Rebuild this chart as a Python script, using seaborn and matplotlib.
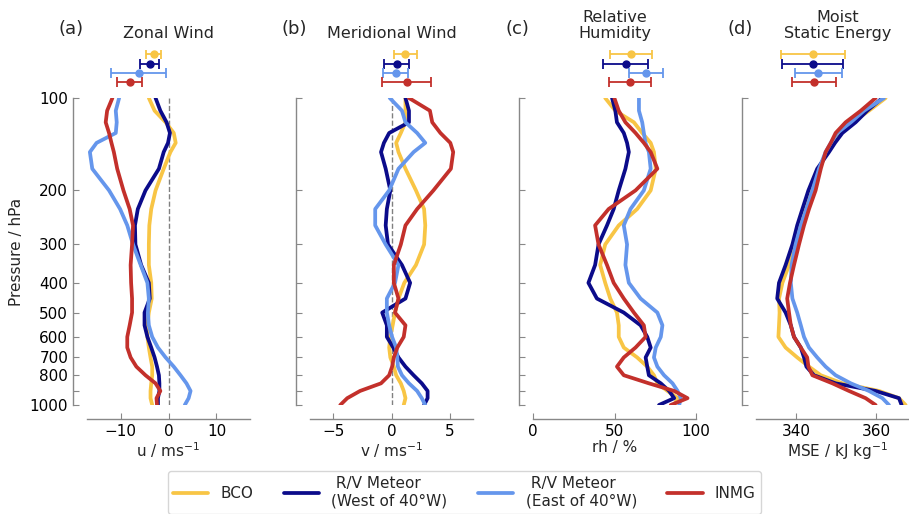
import numpy as np
import pandas as pd
import seaborn as sns
import matplotlib.pyplot as plt
from matplotlib.ticker import NullLocator

sns.set_style('ticks')
plt.rcParams['font.family'] = ['DejaVu Sans']
plt.rcParams['font.size'] = 11

pressure = [100, 110, 120, 130, 140, 150, 170, 200, 230, 260, 300, 350, 400,
            450, 500, 550, 600, 650, 700, 750, 800, 850, 900, 950, 1000]

sources = ['BCO', ' R/V Meteor\n(West of 40°W)', ' R/V Meteor\n(East of 40°W)', 'INMG']
colors = ['#F8C545', '#0B0B8A', '#6596EC', '#C3302B']

# zonal wind (m/s)
u_bco = [-4.1, -2.9, -0.6, 1.1, 1.5, 0.4, -1.0, -2.7, -3.6, -4.0, -4.1, -4.1, -3.6,
         -3.5, -4.1, -4.4, -4.4, -4.1, -3.75, -3.4, -3.4, -3.6, -3.75, -3.75, -3.4]
u_west = [-2.7, -1.7, -0.4, 0.3, -0.1, -1.0, -2.0, -4.8, -6.4, -7.0, -6.9, -5.7, -4.1,
          -3.9, -5.0, -5.0, -4.4, -3.6, -2.9, -2.4, -2.0, -1.9, -1.9, -2.2, -2.2]
u_east = [-10.3, -11.0, -10.8, -11.0, -15.0, -16.4, -15.9, -12.4, -10.1, -8.6, -7.4, -5.8, -4.4,
          -4.1, -4.3, -4.1, -3.4, -2.2, -0.6, 1.1, 2.5, 3.75, 4.6, 4.2, 3.4]
u_inmg = [-11.7, -12.8, -13.1, -12.4, -11.9, -11.4, -10.7, -9.4, -8.1, -7.4, -7.6, -7.9, -7.8,
          -7.6, -7.6, -8.1, -8.6, -8.6, -7.9, -6.7, -4.8, -2.7, -1.7, -2.5, -2.4]

# meridional wind (m/s)
v_bco = [1.2, 1.2, 1.2, 0.8, 0.4, 0.6, 1.2, 2.1, 2.8, 2.9, 2.8, 2.1, 1.1,
         0.6, 0.3, 0.1, -0.1, -0.2, -0.1, 0.2, 0.4, 0.8, 1.05, 1.2, 1.05]
v_west = [1.2, 1.5, 1.5, -0.2, -0.65, -0.9, -0.5, -0.1, -0.4, -0.5, -0.3, 0.9, 1.6,
          1.2, -0.8, -0.4, -0.4, 0.15, 0.6, 1.2, 1.9, 2.6, 3.1, 3.1, 2.8]
v_east = [-0.15, 0.9, 1.2, 2.2, 2.9, 1.9, 0.6, -0.2, -1.4, -1.4, -0.5, 0.6, 0.3,
          -0.4, -0.4, -0.2, 0.05, 0.4, 0.5, 0.55, 0.9, 1.5, 2.2, 2.6, 2.9]
v_inmg = [1.5, 3.3, 3.5, 4.2, 5.05, 5.3, 5.1, 3.6, 2.2, 1.2, 0.8, 0.2, 0.2,
          0.6, 0.3, 1.2, 1.05, 0.5, 0.2, 0.05, -0.2, -0.9, -2.7, -3.8, -4.4]

# relative humidity (%)
rh_bco = [44.3, 50.5, 61.9, 67, 72.2, 74.2, 75.3, 72.2, 63.9, 52.6, 44.3, 41.2, 44.3,
          47.4, 51.5, 52.6, 52.6, 55.7, 63.9, 70.1, 74.2, 76.3, 82.5, 88.7, 86.6]
rh_west = [48.5, 50.5, 51.5, 55.7, 57.7, 58.8, 56.7, 52.6, 49.5, 45.4, 40.2, 38.1, 34,
           39.2, 55.7, 66, 70.1, 72.2, 69.1, 70.1, 71.1, 78.4, 83.5, 86.6, 77.3]
rh_east = [65, 65, 67, 68, 69, 71.1, 72.2, 68, 59.8, 55.7, 57.7, 56.7, 58.8,
           66, 76.3, 79.4, 78.4, 75.3, 74.2, 76.3, 80.4, 85.6, 88.7, 90.7, 89.7]
rh_inmg = [49.9, 52.6, 56.7, 62.9, 68, 72.2, 76.3, 62.9, 46.4, 38.1, 40.2, 45.4, 49.5,
           55.7, 61.9, 68, 69.1, 62.9, 55.7, 51.5, 55.7, 71.1, 86.6, 94.8, 84.5]

# moist static energy (kJ/kg)
mse_bco = [362.4, 358.25, 354.1, 351.2, 349.5, 347.8, 345.75, 343.7, 342, 340.75, 339.9, 338.25, 336.6,
           335.75, 335.9, 335.75, 335.6, 337.4, 340.3, 343.25, 346.2, 351.6, 360.75, 365.75, 367.4]
mse_west = [361.6, 357.8, 354.9, 351.6, 349.75, 348.25, 345.3, 343.1, 341.6, 340.3, 339.1, 337.4, 335.75,
            335.3, 337.4, 338.7, 339.5, 341.2, 342, 342.6, 344.5, 349.9, 359.9, 365.75, 366.4]
mse_east = [362, 357, 353.7, 350.3, 348.7, 347.4, 345.75, 344.1, 342.6, 341.2, 339.9, 338.9, 338.7,
            339.1, 340.3, 341.2, 342, 343.25, 345.3, 347.4, 349.9, 353.7, 358.25, 361.6, 363.25]
mse_inmg = [359.9, 356.2, 352.4, 349.9, 348.7, 347.4, 346.2, 344.9, 343.25, 342, 340.75, 339.5, 338.5,
            337.8, 338.25, 338.7, 339.5, 341.2, 342.8, 343.1, 344.1, 349.1, 353.25, 357.4, 359.9]

# column means and spread (top error bars)
u_mean, u_std = [-3.1, -3.9, -6.2, -8.1], [1.5, 2.0, 5.7, 2.6]
v_mean, v_std = [1.2, 0.43, 0.35, 1.3], [1.0, 1.1, 1.1, 2.1]
rh_mean, rh_std = [60.3, 56.8, 69.5, 59.5], [12.9, 13.7, 10.3, 13.0]
mse_mean, mse_std = [344.2, 344.2, 345.6, 344.5], [8.0, 7.6, 5.8, 5.5]

panels = [
    ('(a)', 'Zonal Wind', 'u / ms$^{-1}$', [u_bco, u_west, u_east, u_inmg], u_mean, u_std,
     (-17, 17), [-10, 0, 10]),
    ('(b)', 'Meridional Wind', 'v / ms$^{-1}$', [v_bco, v_west, v_east, v_inmg], v_mean, v_std,
     (-7, 7), [-5, 0, 5]),
    ('(c)', 'Relative\nHumidity', 'rh / %', [rh_bco, rh_west, rh_east, rh_inmg], rh_mean, rh_std,
     (0, 100), [0, 50, 100]),
    ('(d)', 'Moist\nStatic Energy', 'MSE / kJ kg$^{-1}$', [mse_bco, mse_west, mse_east, mse_inmg],
     mse_mean, mse_std, (330, 370.75), [340, 360]),
]

W, H = 909, 514
fig = plt.figure(figsize=(W / 100, H / 100), dpi=100)
lefts = [87, 310, 533, 756]
grey = '#888888'
yticks = [100, 200, 300, 400, 500, 600, 700, 800, 900, 1000]

for i, (letter, title, xlabel, series, means, stds, xlim, xticks) in enumerate(panels):
    ax = fig.add_axes([lefts[i] / W, (H - 405) / H, 163 / W, 307 / H])
    for j, vals in enumerate(series):
        df = pd.DataFrame({'x': vals, 'p': pressure})
        sns.lineplot(data=df, x='x', y='p', ax=ax, color=colors[j], lw=2.7,
                     sort=False, estimator=None, orient='y', label=sources[j])
    if i < 2:
        ax.axvline(0, color='grey', ls='--', lw=1, zorder=0)
    ax.set_yscale('log')
    ax.set_ylim(1000, 100)
    ax.yaxis.set_minor_locator(NullLocator())
    ax.set_yticks(yticks)
    if i == 0:
        ax.set_yticklabels([str(t) if t != 900 else '' for t in yticks])
        ax.set_ylabel('Pressure / hPa')
    else:
        ax.set_yticklabels([])
        ax.set_ylabel('')
    ax.set_xlim(*xlim)
    ax.set_xticks(xticks)
    ax.set_xlabel(xlabel, labelpad=1)
    ax.tick_params(direction='in', colors=grey, labelcolor='black', labelsize=11, length=4)
    ax.get_legend().remove()
    sns.despine(ax=ax, offset=10)
    for s in ['left', 'bottom']:
        ax.spines[s].set_color(grey)
        ax.spines[s].set_linewidth(1)

    ax.text(0.5, 1.186, title, transform=ax.transAxes, ha='center', va='bottom',
            fontsize=11.5, linespacing=1.1)
    ax.text(-0.097, 1.225, letter, transform=ax.transAxes, ha='center', va='center',
            fontsize=13)

    eax = ax.inset_axes([0, 1.037, 1, 0.12])
    for j in range(4):
        eax.errorbar(means[j], 3 - j, xerr=stds[j], fmt='o', color=colors[j], ms=5,
                     elinewidth=1.3, capsize=3.5, capthick=1.3)
    eax.set_xlim(*xlim)
    eax.set_ylim(-0.5, 3.5)
    eax.axis('off')

    if i == 0:
        handles, labels = ax.get_lines()[:4], sources

fig.legend(handles, labels, loc='upper center', bbox_to_anchor=(0.511, 1 - 463 / H),
           ncol=4, fontsize=11, frameon=True, handlelength=2.3, columnspacing=2.0,
           borderpad=0.35)

fig.savefig('out.png', dpi=100)
